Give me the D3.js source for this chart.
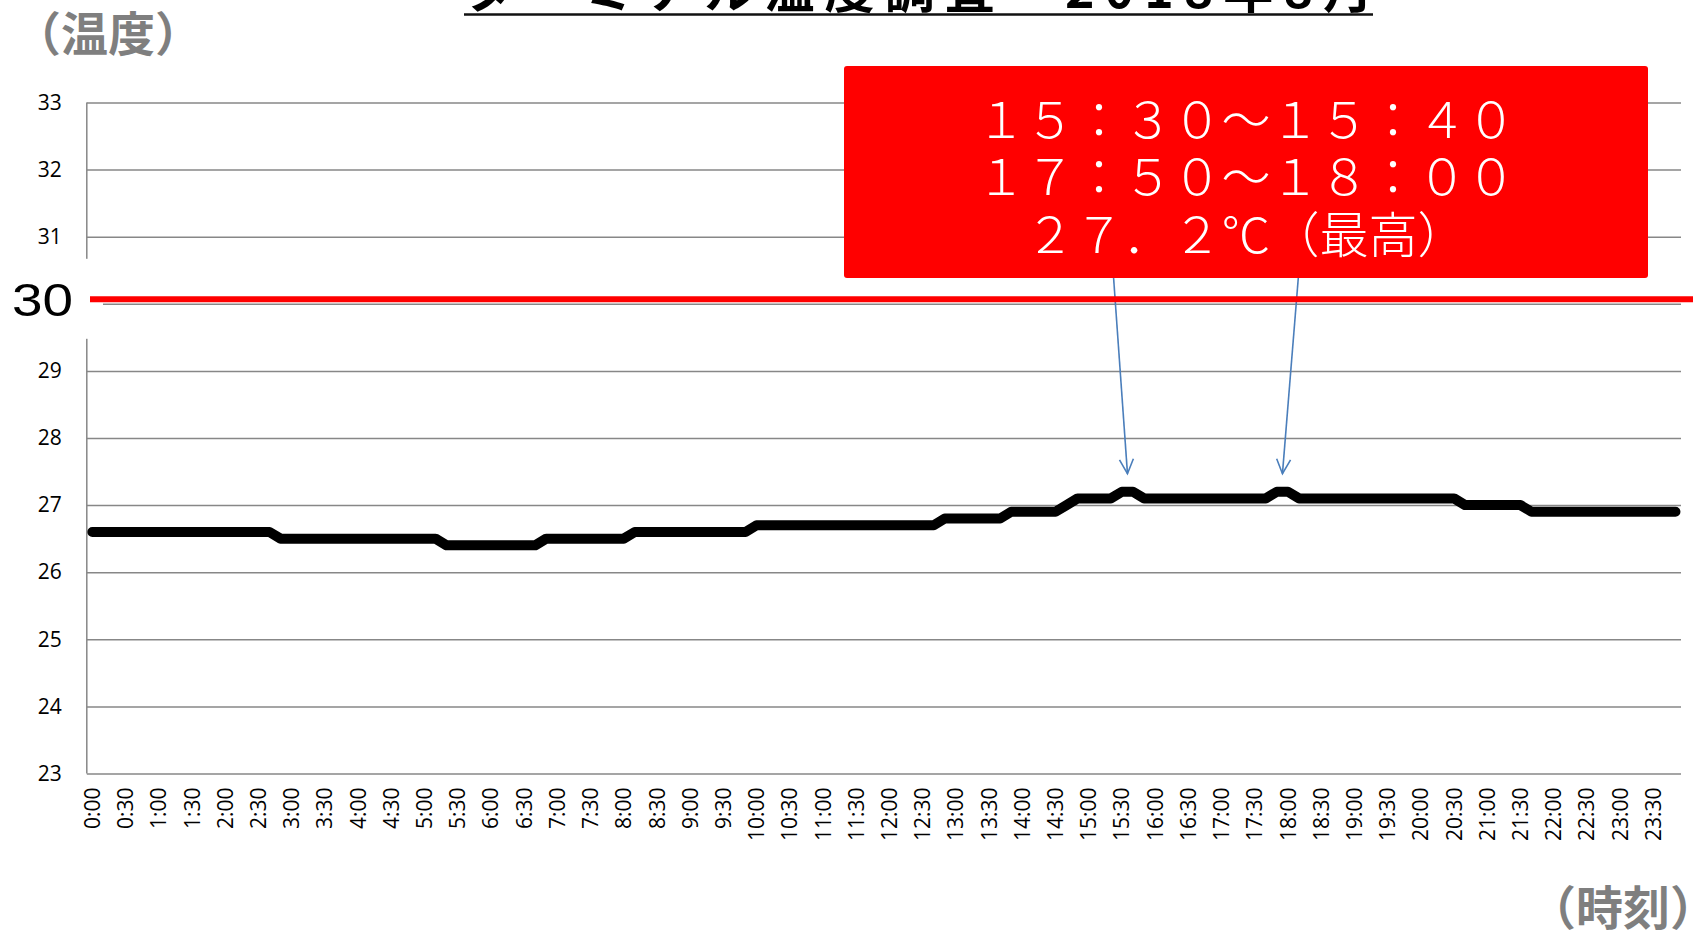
<!DOCTYPE html>
<html><head><meta charset="utf-8">
<script src="https://cdn.jsdelivr.net/npm/d3@7"></script>
<style>body{margin:0;background:#fff;} svg{display:block;}</style>
</head><body>
<script>
const categories = [
 "0:00","0:10","0:20","0:30","0:40","0:50",
 "1:00","1:10","1:20","1:30","1:40","1:50",
 "2:00","2:10","2:20","2:30","2:40","2:50",
 "3:00","3:10","3:20","3:30","3:40","3:50",
 "4:00","4:10","4:20","4:30","4:40","4:50",
 "5:00","5:10","5:20","5:30","5:40","5:50",
 "6:00","6:10","6:20","6:30","6:40","6:50",
 "7:00","7:10","7:20","7:30","7:40","7:50",
 "8:00","8:10","8:20","8:30","8:40","8:50",
 "9:00","9:10","9:20","9:30","9:40","9:50",
 "10:00","10:10","10:20","10:30","10:40","10:50",
 "11:00","11:10","11:20","11:30","11:40","11:50",
 "12:00","12:10","12:20","12:30","12:40","12:50",
 "13:00","13:10","13:20","13:30","13:40","13:50",
 "14:00","14:10","14:20","14:30","14:40","14:50",
 "15:00","15:10","15:20","15:30","15:40","15:50",
 "16:00","16:10","16:20","16:30","16:40","16:50",
 "17:00","17:10","17:20","17:30","17:40","17:50",
 "18:00","18:10","18:20","18:30","18:40","18:50",
 "19:00","19:10","19:20","19:30","19:40","19:50",
 "20:00","20:10","20:20","20:30","20:40","20:50",
 "21:00","21:10","21:20","21:30","21:40","21:50",
 "22:00","22:10","22:20","22:30","22:40","22:50",
 "23:00","23:10","23:20","23:30","23:40","23:50"
];
const temperatures = [
 26.6,26.6,26.6,26.6,26.6,26.6,
 26.6,26.6,26.6,26.6,26.6,26.6,
 26.6,26.6,26.6,26.6,26.6,26.5,
 26.5,26.5,26.5,26.5,26.5,26.5,
 26.5,26.5,26.5,26.5,26.5,26.5,
 26.5,26.5,26.4,26.4,26.4,26.4,
 26.4,26.4,26.4,26.4,26.4,26.5,
 26.5,26.5,26.5,26.5,26.5,26.5,
 26.5,26.6,26.6,26.6,26.6,26.6,
 26.6,26.6,26.6,26.6,26.6,26.6,
 26.7,26.7,26.7,26.7,26.7,26.7,
 26.7,26.7,26.7,26.7,26.7,26.7,
 26.7,26.7,26.7,26.7,26.7,26.8,
 26.8,26.8,26.8,26.8,26.8,26.9,
 26.9,26.9,26.9,26.9,27.0,27.1,
 27.1,27.1,27.1,27.2,27.2,27.1,
 27.1,27.1,27.1,27.1,27.1,27.1,
 27.1,27.1,27.1,27.1,27.1,27.2,
 27.2,27.1,27.1,27.1,27.1,27.1,
 27.1,27.1,27.1,27.1,27.1,27.1,
 27.1,27.1,27.1,27.1,27.0,27.0,
 27.0,27.0,27.0,27.0,26.9,26.9,
 26.9,26.9,26.9,26.9,26.9,26.9,
 26.9,26.9,26.9,26.9,26.9,26.9
];
const xTickLabels = [
 "0:00","0:30","1:00","1:30","2:00","2:30","3:00","3:30","4:00","4:30","5:00","5:30",
 "6:00","6:30","7:00","7:30","8:00","8:30","9:00","9:30","10:00","10:30","11:00","11:30",
 "12:00","12:30","13:00","13:30","14:00","14:30","15:00","15:30","16:00","16:30","17:00","17:30",
 "18:00","18:30","19:00","19:30","20:00","20:30","21:00","21:30","22:00","22:30","23:00","23:30"
];
const yTicks = [23,24,25,26,27,28,29,30,31,32,33];
const thresholdValue = 30;
const thresholdLabel = "30";
const annotationLines = ["１５：３０～１５：４０","１７：５０～１８：００","２７．２℃（最高）"];
const titleText = "ターミナル温度調査　2018年8月";
const yTitle = "（温度）";
const xTitle = "（時刻）";

const W = 1693, H = 931;
const plot = {left: 86.8, right: 1681, top: 102.5, bottom: 773.5};
const tickFont = "'Open Sans', 'Noto Sans', sans-serif";
const cjkFont = "'Noto Sans CJK JP', sans-serif";

const svg = d3.select("body").append("svg").attr("width", W).attr("height", H);

const x = d3.scaleBand().domain(categories).range([plot.left, plot.right]);
const px = c => x(c) + x.bandwidth() / 2;
const y = d3.scaleLinear().domain([23, 33]).range([plot.bottom, plot.top]);

// gridlines
svg.append("g").attr("transform", `translate(${plot.left},0)`)
  .call(d3.axisLeft(y).tickValues(yTicks).tickSize(-(plot.right - plot.left)).tickFormat(""))
  .call(g => g.select(".domain").remove())
  .selectAll("line").attr("stroke", "#878787").attr("stroke-width", 1.5);

// y axis line
svg.append("line").attr("x1", plot.left).attr("x2", plot.left)
  .attr("y1", plot.top).attr("y2", plot.bottom)
  .attr("stroke", "#878787").attr("stroke-width", 1.5);

// y labels (the 30 label is replaced by the large threshold label)
svg.append("g").attr("transform", `translate(${plot.left},0)`)
  .call(d3.axisLeft(y).tickValues(yTicks.filter(v => v !== thresholdValue)).tickSize(0).tickPadding(25))
  .call(g => g.select(".domain").remove())
  .selectAll("text").attr("font-family", tickFont).attr("font-size", 21).attr("fill", "#000");

// x labels
svg.append("g").attr("transform", `translate(0,${plot.bottom})`)
  .call(d3.axisBottom(x).tickValues(xTickLabels).tickSize(0))
  .call(g => g.select(".domain").remove())
  .selectAll("text")
  .attr("transform", "rotate(-90)")
  .attr("text-anchor", "end")
  .attr("x", -14).attr("y", 0).attr("dy", "0.36em")
  .attr("font-family", tickFont).attr("font-size", 21).attr("fill", "#000");

// data line
svg.append("path").datum(temperatures)
  .attr("d", d3.line().x((d, i) => px(categories[i])).y(d => y(d)))
  .attr("fill", "none").attr("stroke", "#000").attr("stroke-width", 10)
  .attr("stroke-linejoin", "round").attr("stroke-linecap", "round");

// white cover over the axis around the threshold label
svg.append("rect").attr("x", 0).attr("y", y(thresholdValue) - 45).attr("width", 103).attr("height", 80).attr("fill", "#fff");

// annotation arrows
const maxVal = d3.max(temperatures);
const runs = [];
temperatures.forEach((v, i) => {
  if (v === maxVal) {
    const last = runs[runs.length - 1];
    if (last && last[last.length - 1] === i - 1) last.push(i); else runs.push([i]);
  }
});
const box = {x: 844, y: 66, w: 804, h: 212};
const arrowOffsets = [-14, 16];
const arrowColor = "#4a7ebb";
runs.forEach((run, k) => {
  const tx = d3.mean(run, i => px(categories[i]));
  const ty = y(maxVal) - 18;
  const sx = tx + (arrowOffsets[k] || 0), sy = box.y + box.h - 2;
  const ang = Math.atan2(ty - sy, tx - sx);
  const L = 16, spread = 0.45;
  svg.append("line").attr("x1", sx).attr("y1", sy).attr("x2", tx).attr("y2", ty)
    .attr("stroke", arrowColor).attr("stroke-width", 1.6);
  svg.append("path")
    .attr("d", `M${tx - L * Math.cos(ang - spread)},${ty - L * Math.sin(ang - spread)}L${tx},${ty}L${tx - L * Math.cos(ang + spread)},${ty - L * Math.sin(ang + spread)}`)
    .attr("fill", "none").attr("stroke", arrowColor).attr("stroke-width", 1.6);
});

// threshold red line
svg.append("line").attr("x1", 90).attr("x2", W)
  .attr("y1", y(thresholdValue) - 4.5).attr("y2", y(thresholdValue) - 4.5)
  .attr("stroke", "#ff0000").attr("stroke-width", 6);
svg.append("text").attr("x", 12).attr("y", y(thresholdValue) + 12.5)
  .attr("font-family", "'Liberation Sans', Arial, sans-serif").attr("font-size", 47)
  .attr("textLength", 61).attr("lengthAdjust", "spacingAndGlyphs")
  .attr("fill", "#000").text(thresholdLabel);

// annotation box
svg.append("rect").attr("x", box.x).attr("y", box.y).attr("width", box.w).attr("height", box.h)
  .attr("rx", 3).attr("fill", "#ff0000");
const baselines = [138, 195, 253];
annotationLines.forEach((t, i) => {
  svg.append("text").attr("x", box.x + box.w / 2).attr("y", baselines[i])
    .attr("text-anchor", "middle").attr("font-family", cjkFont).attr("font-weight", 300)
    .attr("font-size", 49).attr("fill", "#fff").text(t);
});

// title (cut off at top)
svg.append("text").attr("x", 464).attr("y", 8)
  .attr("font-family", cjkFont).attr("font-weight", "bold").attr("font-size", 50)
  .attr("textLength", 909).attr("lengthAdjust", "spacing")
  .attr("fill", "#000").text(titleText);
svg.append("line").attr("x1", 464).attr("x2", 1373).attr("y1", 14.5).attr("y2", 14.5)
  .attr("stroke", "#111").attr("stroke-width", 2.5);

// axis titles
svg.append("text").attr("x", 14).attr("y", 51)
  .attr("font-family", cjkFont).attr("font-weight", "bold").attr("font-size", 47)
  .attr("fill", "#7f7f7f").text(yTitle);
svg.append("text").attr("x", W + 24).attr("y", 925).attr("text-anchor", "end")
  .attr("font-family", cjkFont).attr("font-weight", "bold").attr("font-size", 47)
  .attr("fill", "#7f7f7f").text(xTitle);
</script>
</body></html>
